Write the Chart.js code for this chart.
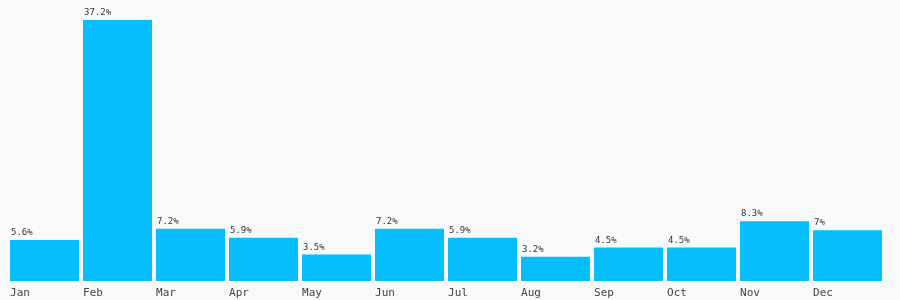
<!DOCTYPE html>
<html><head><meta charset="utf-8">
<script src="https://cdn.jsdelivr.net/npm/chart.js@4"></script>
<style>html,body{margin:0;padding:0;background:#f8f9fb;}#wrap{width:900px;height:300px;}</style>
</head><body><div id="wrap"><canvas id="c" width="900" height="300"></canvas></div>
<script>
const months = ["Jan","Feb","Mar","Apr","May","Jun","Jul","Aug","Sep","Oct","Nov","Dec"];
const shares = [5.6,37.2,7.2,5.9,3.5,7.2,5.9,3.2,4.5,4.5,8.3,7];
const valueLabels = ["5.6%","37.2%","7.2%","5.9%","3.5%","7.2%","5.9%","3.2%","4.5%","4.5%","8.3%","7%"];
const yMin = -0.3;
const yMax = 37.2;

const labelPlugin = {
  id: 'labels',
  afterDatasetsDraw(chart) {
    const ctx = chart.ctx;
    const meta = chart.getDatasetMeta(0);
    ctx.save();
    ctx.textAlign = 'left';
    meta.data.forEach((bar, i) => {
      const left = bar.x - bar.width / 2;
      ctx.fillStyle = '#333';
      ctx.font = '9px "DejaVu Sans Mono", monospace';
      ctx.textBaseline = 'alphabetic';
      ctx.fillText(valueLabels[i], left + 1, bar.y - 5);
      ctx.fillStyle = '#444';
      ctx.font = '11px "DejaVu Sans Mono", monospace';
      ctx.textBaseline = 'middle';
      ctx.fillText(months[i], left, chart.chartArea.bottom + 12);
    });
    ctx.restore();
  }
};

new Chart(document.getElementById('c'), {
  type: 'bar',
  data: { labels: months, datasets: [{ data: shares, base: yMin, backgroundColor: '#05befb', borderWidth: 0, barPercentage: 0.945, categoryPercentage: 1 }] },
  options: {
    responsive: false, animation: false,
    layout: { padding: { left: 8, right: 16, top: 20, bottom: 19 } },
    plugins: { legend: { display: false }, tooltip: { enabled: false } },
    scales: {
      x: { display: false },
      y: { display: false, min: yMin, max: yMax }
    }
  },
  plugins: [labelPlugin]
});
</script></body></html>
